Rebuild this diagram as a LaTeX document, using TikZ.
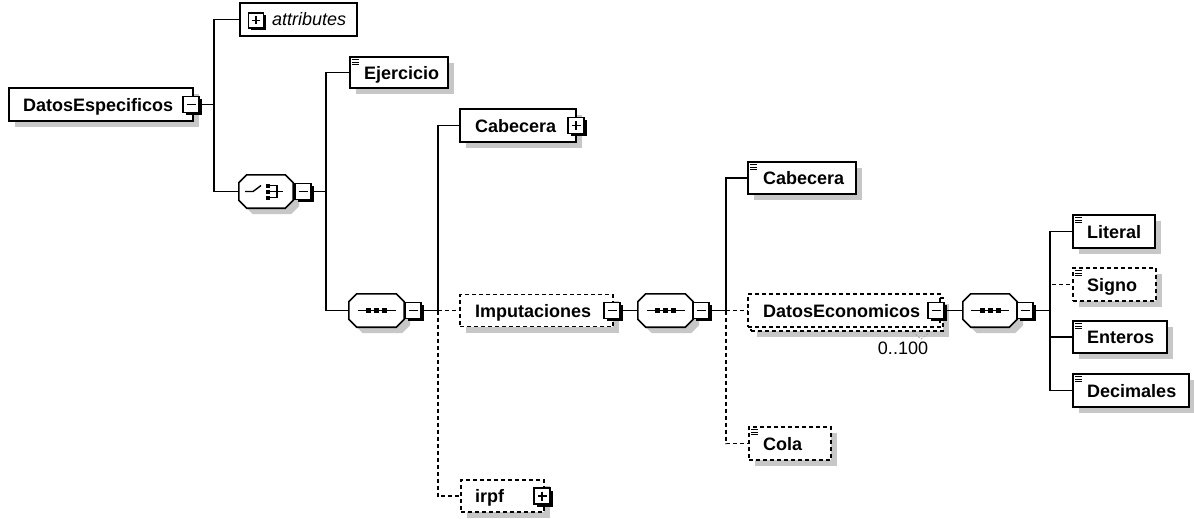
\documentclass[tikz,border=0pt]{standalone}
\usepackage{fontspec}
\setmainfont{Liberation Sans}
\usetikzlibrary{calc,shadows}
\definecolor{shd}{gray}{0.78}
\tikzset{
  conn/.style={line width=1.5pt},
  opt/.style={dash pattern=on 4pt off 3pt},
  elbox/.style={draw, fill=white, line width=1.6pt, inner sep=0pt,
    drop shadow={shadow xshift=6pt, shadow yshift=-6pt, fill=shd, opacity=1}},
  optbox/.style={elbox, opt},
  plainbox/.style={draw, fill=white, line width=1.6pt, inner sep=0pt},
  grp/.style={inner sep=0pt, minimum width=55pt, minimum height=33pt},
  lbl/.style={anchor=base west, inner sep=0pt, font=\fontsize{18}{20}\selectfont\bfseries},
  btn/.style={draw, fill=white, line width=1.5pt, minimum size=16pt, inner sep=0pt,
    drop shadow={shadow xshift=2.5pt, shadow yshift=-2.5pt, fill=black, opacity=1}},
  minusbtn/.style={btn, path picture={\draw[line width=1.4pt] ([xshift=3.5pt]path picture bounding box.west) -- ([xshift=-3.5pt]path picture bounding box.east);}},
  plusbtn/.style={btn, path picture={\draw[line width=1.4pt] ([xshift=3.5pt]path picture bounding box.west) -- ([xshift=-3.5pt]path picture bounding box.east);
     \draw[line width=1.4pt] ([yshift=-3.5pt]path picture bounding box.north) -- ([yshift=3.5pt]path picture bounding box.south);}},
}
\newcommand\octpath[2]{($(#1.north west)+(#2+8,#2)$) -- ($(#1.north east)+(#2-8,#2)$) -- ($(#1.north east)+(#2,#2+8)$) -- ($(#1.south east)+(#2,#2-8)$) -- ($(#1.south east)+(#2-8,#2)$) -- ($(#1.south west)+(#2+8,#2)$) -- ($(#1.south west)+(#2,#2-8)$) -- ($(#1.north west)+(#2,#2+8)$) -- cycle}
\newcommand\drawocta[1]{\fill[shd] \octpath{#1}{6}; \draw[line width=1.6pt, fill=white] \octpath{#1}{0};}
\newcommand\seqicon[1]{\draw[line width=1.4pt] ($(#1.center)+(-19,0)$) -- ($(#1.center)+(19,0)$);
  \foreach \d in {-8,0,8} {\fill ($(#1.center)+(\d-2.5,-2.5)$) rectangle ++(5,5);}}
\newcommand\docicon[1]{\foreach \d in {3.5,6,8.5} {\draw[line width=1.1pt] ($(#1.north west)+(3,\d)$) -- ++(7,0);}}
\begin{document}
\begin{tikzpicture}[x=1pt,y=-1pt]
\useasboundingbox[fill=white] (0,0) rectangle (1194,519);

% root
\node[elbox, minimum width=184pt, minimum height=33pt] (de) at (101,104.5) {};
\node[lbl] (de-t) at (23,111) {DatosEspecificos};
\node[minusbtn] (de-b) at (191,104.5) {};

% attributes
\node[plainbox, minimum width=117pt, minimum height=33pt] (at) at (298.5,19.5) {};
\node[plusbtn, minimum size=15pt] (at-b) at (256,20.5) {};
\node[lbl, font=\fontsize{18}{20}\selectfont\itshape] (at-t) at (272,26) {attributes};

% choice
\node[grp, minimum width=54pt] (ch) at (266,191.5) {};
\drawocta{ch}
\draw[line width=1.4pt] ($(ch.center)+(-21,0)$) -- ($(ch.center)+(-13,0)$) -- ($(ch.center)+(-5,-6)$);
\foreach \d in {-6,0,6} {\fill ($(ch.center)+(-0.5,\d-2)$) rectangle ++(4,4);}
\draw[line width=1.4pt] ($(ch.center)+(3,-6)$) -- ($(ch.center)+(11,-6)$) -- ($(ch.center)+(11,6)$) -- ($(ch.center)+(3,6)$);
\draw[line width=1.4pt] ($(ch.center)+(3,0)$) -- ($(ch.center)+(17,0)$);
\node[minusbtn] (ch-b) at (303,191.5) {};

% Ejercicio
\node[elbox, minimum width=98pt, minimum height=31pt] (ej) at (399,72.5) {};
\docicon{ej}
\node[lbl] (ej-t) at (364,79) {Ejercicio};

% sequence 1
\node[grp] (s1) at (376.5,310.5) {};
\drawocta{s1}
\seqicon{s1}
\node[minusbtn] (s1-b) at (413,310.5) {};

% Cabecera (complex)
\node[elbox, minimum width=116pt, minimum height=33pt] (cab1) at (518,125.5) {};
\node[lbl] (cab1-t) at (475,132) {Cabecera};
\node[plusbtn] (cab1-b) at (576,125.5) {};

% Imputaciones
\node[optbox, minimum width=153pt, minimum height=32pt] (imp) at (536.5,310.5) {};
\node[lbl] (imp-t) at (475,317) {Imputaciones};
\node[minusbtn] (imp-b) at (612,310.5) {};

% irpf
\node[optbox, minimum width=83pt, minimum height=32pt] (irpf) at (502.5,496) {};
\node[lbl] (irpf-t) at (475,502.5) {irpf};
\node[plusbtn] (irpf-b) at (542,496) {};

% sequence 2
\node[grp] (s2) at (665.5,310.5) {};
\drawocta{s2}
\seqicon{s2}
\node[minusbtn] (s2-b) at (701,310.5) {};

% Cabecera (simple)
\node[elbox, minimum width=108pt, minimum height=32pt] (cab2) at (802,178) {};
\docicon{cab2}
\node[lbl] (cab2-t) at (763,184.5) {Cabecera};

% DatosEconomicos
\node[optbox, minimum width=192pt, minimum height=33pt] (dec-bk) at (847,314.5) {};
\node[plainbox, opt, minimum width=192pt, minimum height=33pt] (dec) at (844,310.5) {};
\node[lbl] (dec-t) at (763,317) {DatosEconomicos};
\node[minusbtn] (dec-b) at (936,310.5) {};
\draw[line width=0.8pt, gray!70, dash pattern=on 2pt off 1.5pt] (913,332) -- (921,339) -- (929,333);
\node[inner sep=0pt, font=\fontsize{18}{20}\selectfont] (dec-m) at (903,348) {0..100};

% sequence 3
\node[grp, minimum width=54pt] (s3) at (990,310.5) {};
\drawocta{s3}
\seqicon{s3}
\node[minusbtn] (s3-b) at (1025,310.5) {};

% Cola
\node[optbox, minimum width=82pt, minimum height=33pt] (cola) at (790,443.5) {};
\docicon{cola}
\node[lbl] (cola-t) at (763,450) {Cola};

% leaves
\node[elbox, minimum width=82pt, minimum height=33pt] (lit) at (1114,231.5) {};
\docicon{lit}
\node[lbl] (lit-t) at (1087,238) {Literal};
\node[optbox, minimum width=83pt, minimum height=33pt] (sig) at (1114.5,284.5) {};
\docicon{sig}
\node[lbl] (sig-t) at (1087,291) {Signo};
\node[elbox, minimum width=94pt, minimum height=32pt] (ent) at (1120,337) {};
\docicon{ent}
\node[lbl] (ent-t) at (1087,343.5) {Enteros};
\node[elbox, minimum width=116pt, minimum height=33pt] (decim) at (1131,390.5) {};
\docicon{decim}
\node[lbl] (decim-t) at (1087,397) {Decimales};

% connectors
\draw[conn] (de-b.east) -- ++(14,0) coordinate (j0) |- (at.west);
\draw[conn] (j0) |- (ch.west);
\draw[conn] (ch-b.east) -- ++(14,0) coordinate (j1) |- (ej.west);
\draw[conn] (j1) |- (s1.west);
\draw[conn] (s1-b.east) -- ++(16,0) coordinate (j2) |- (cab1.west);
\draw[conn,opt] (j2) -- (imp.west);
\draw[conn,opt] (j2) |- (irpf.west);
\draw[conn] (imp-b.east) -- (s2.west);
\draw[conn] (s2-b.east) -- ++(16,0) coordinate (j3) |- (cab2.west);
\draw[conn,opt] (j3) -- (dec.west);
\draw[conn,opt] (j3) |- (cola.west);
\draw[conn] (dec-b.east) -- (s3.west);
\draw[conn] (s3-b.east) -- ++(16,0) coordinate (j4) |- (lit.west);
\draw[conn,opt] (j4) |- (sig.west);
\draw[conn] (j4) |- (ent.west);
\draw[conn] (j4) |- (decim.west);
\end{tikzpicture}
\end{document}
